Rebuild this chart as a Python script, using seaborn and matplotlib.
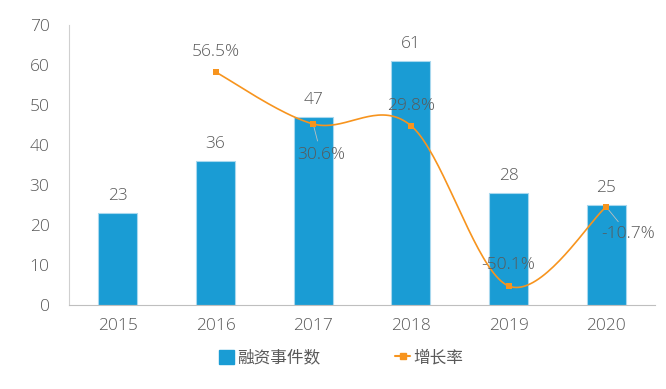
import numpy as np
import pandas as pd
import matplotlib
matplotlib.use("Agg")
import matplotlib.pyplot as plt
import seaborn as sns
from matplotlib.lines import Line2D
from matplotlib.patches import Patch

years = ["2015", "2016", "2017", "2018", "2019", "2020"]
events = [23, 36, 47, 61, 28, 25]
growth_years = ["2016", "2017", "2018", "2019", "2020"]
growth = [56.5, 30.6, 29.8, -50.1, -10.7]
growth_labels = ["56.5%", "30.6%", "29.8%", "-50.1%", "-10.7%"]
yticks = [0, 10, 20, 30, 40, 50, 60, 70]

sns.set_style("white")
plt.rcParams["font.family"] = ["Open Sans", "Noto Sans CJK SC", "DejaVu Sans"]
plt.rcParams["font.weight"] = "light"

BLUE = "#1A9CD4"
ORANGE = "#F7941E"
TXT = "#595959"

fig = plt.figure(figsize=(6.66, 3.89), dpi=100)
ax = fig.add_axes([69/666, 84/389, 586/666, 280/389])

df = pd.DataFrame({"year": years, "events": events})
sns.barplot(data=df, x="year", y="events", ax=ax, color=BLUE, width=0.4,
            edgecolor="#A8D8EE", linewidth=0.8, saturation=1)
ax.set_xlim(-0.5, 5.5)
ax.set_ylim(0, 70)
ax.set_yticks(yticks)
ax.set_xlabel("")
ax.set_ylabel("")
ax.tick_params(axis="both", length=0, labelsize=12.5, labelcolor=TXT)
ax.tick_params(axis="y", pad=14)
ax.tick_params(axis="x", pad=9)
for lab in ax.get_xticklabels() + ax.get_yticklabels():
    lab.set_fontweight("light")
for s in ["top", "right"]:
    ax.spines[s].set_visible(False)
ax.spines["left"].set_color("#D0D0D0")
ax.spines["bottom"].set_color("#BFBFBF")
ax.spines["left"].set_linewidth(0.8)
ax.spines["bottom"].set_linewidth(0.8)

for i, v in enumerate(events):
    ax.annotate(str(v), (i, v), xytext=(0, 17), textcoords="offset pixels",
                ha="center", va="center", fontsize=12.5, color=TXT,
                fontweight="light")

ax2 = ax.twinx()
ax2.set_ylim(-59.6, 79.9)
ax2.axis("off")

xs = np.array([years.index(y) for y in growth_years], dtype=float)
ys = np.array(growth, dtype=float)

# Excel-style smoothed line (Bezier with Catmull-Rom control points)
P = np.column_stack([xs, ys])
curve = []
n = len(P)
t = np.linspace(0, 1, 40)
for i in range(n - 1):
    p0 = P[i - 1] if i > 0 else P[i]
    p1 = P[i]
    p2 = P[i + 1]
    p3 = P[i + 2] if i + 2 < n else P[i + 1]
    c1 = p1 + (p2 - p0) / 6
    c2 = p2 - (p3 - p1) / 6
    seg = ((1 - t)[:, None] ** 3) * p1 + 3 * ((1 - t)[:, None] ** 2) * t[:, None] * c1 \
        + 3 * (1 - t)[:, None] * (t[:, None] ** 2) * c2 + (t[:, None] ** 3) * p2
    curve.append(seg)
curve = np.vstack(curve)
ax2.plot(curve[:, 0], curve[:, 1], color=ORANGE, lw=1.2, zorder=3)
gdf = pd.DataFrame({"x": xs, "g": ys})
sns.scatterplot(data=gdf, x="x", y="g", ax=ax2, marker="s", s=22, color=ORANGE,
                edgecolor=ORANGE, linewidth=0, zorder=4, legend=False)
ax2.set_xlim(-0.5, 5.5)

offsets = [(0, 20), (8, -31), (0, 20), (0, 21), (22, -27)]
leaders = [False, True, False, False, True]
for x, y, lab, off, lead in zip(xs, ys, growth_labels, offsets, leaders):
    ax2.annotate(lab, (x, y), xytext=off, textcoords="offset pixels",
                 ha="center", va="center", fontsize=12.5, color=TXT, zorder=5,
                 fontweight="light")
    if lead:
        ax2.annotate("", (x, y), xytext=(off[0] * 0.55, off[1] * 0.55),
                     textcoords="offset pixels",
                     arrowprops=dict(arrowstyle="-", color="#BFBFBF", lw=0.6,
                                     shrinkA=0, shrinkB=2), zorder=2)

handles = [Patch(facecolor=BLUE, edgecolor=BLUE),
           Line2D([0], [0], color=ORANGE, lw=1.5, marker="s", markersize=4)]
fig.legend(handles, ["融资事件数", "增长率"], loc="center",
           bbox_to_anchor=(341/666, 1 - 358/389), ncol=2, frameon=False,
           prop={"size": 12, "weight": "light"}, labelcolor=TXT,
           handlelength=0.9, handletextpad=0.2,
           columnspacing=4.5, handleheight=0.9)

fig.savefig("out.png", dpi=100)
